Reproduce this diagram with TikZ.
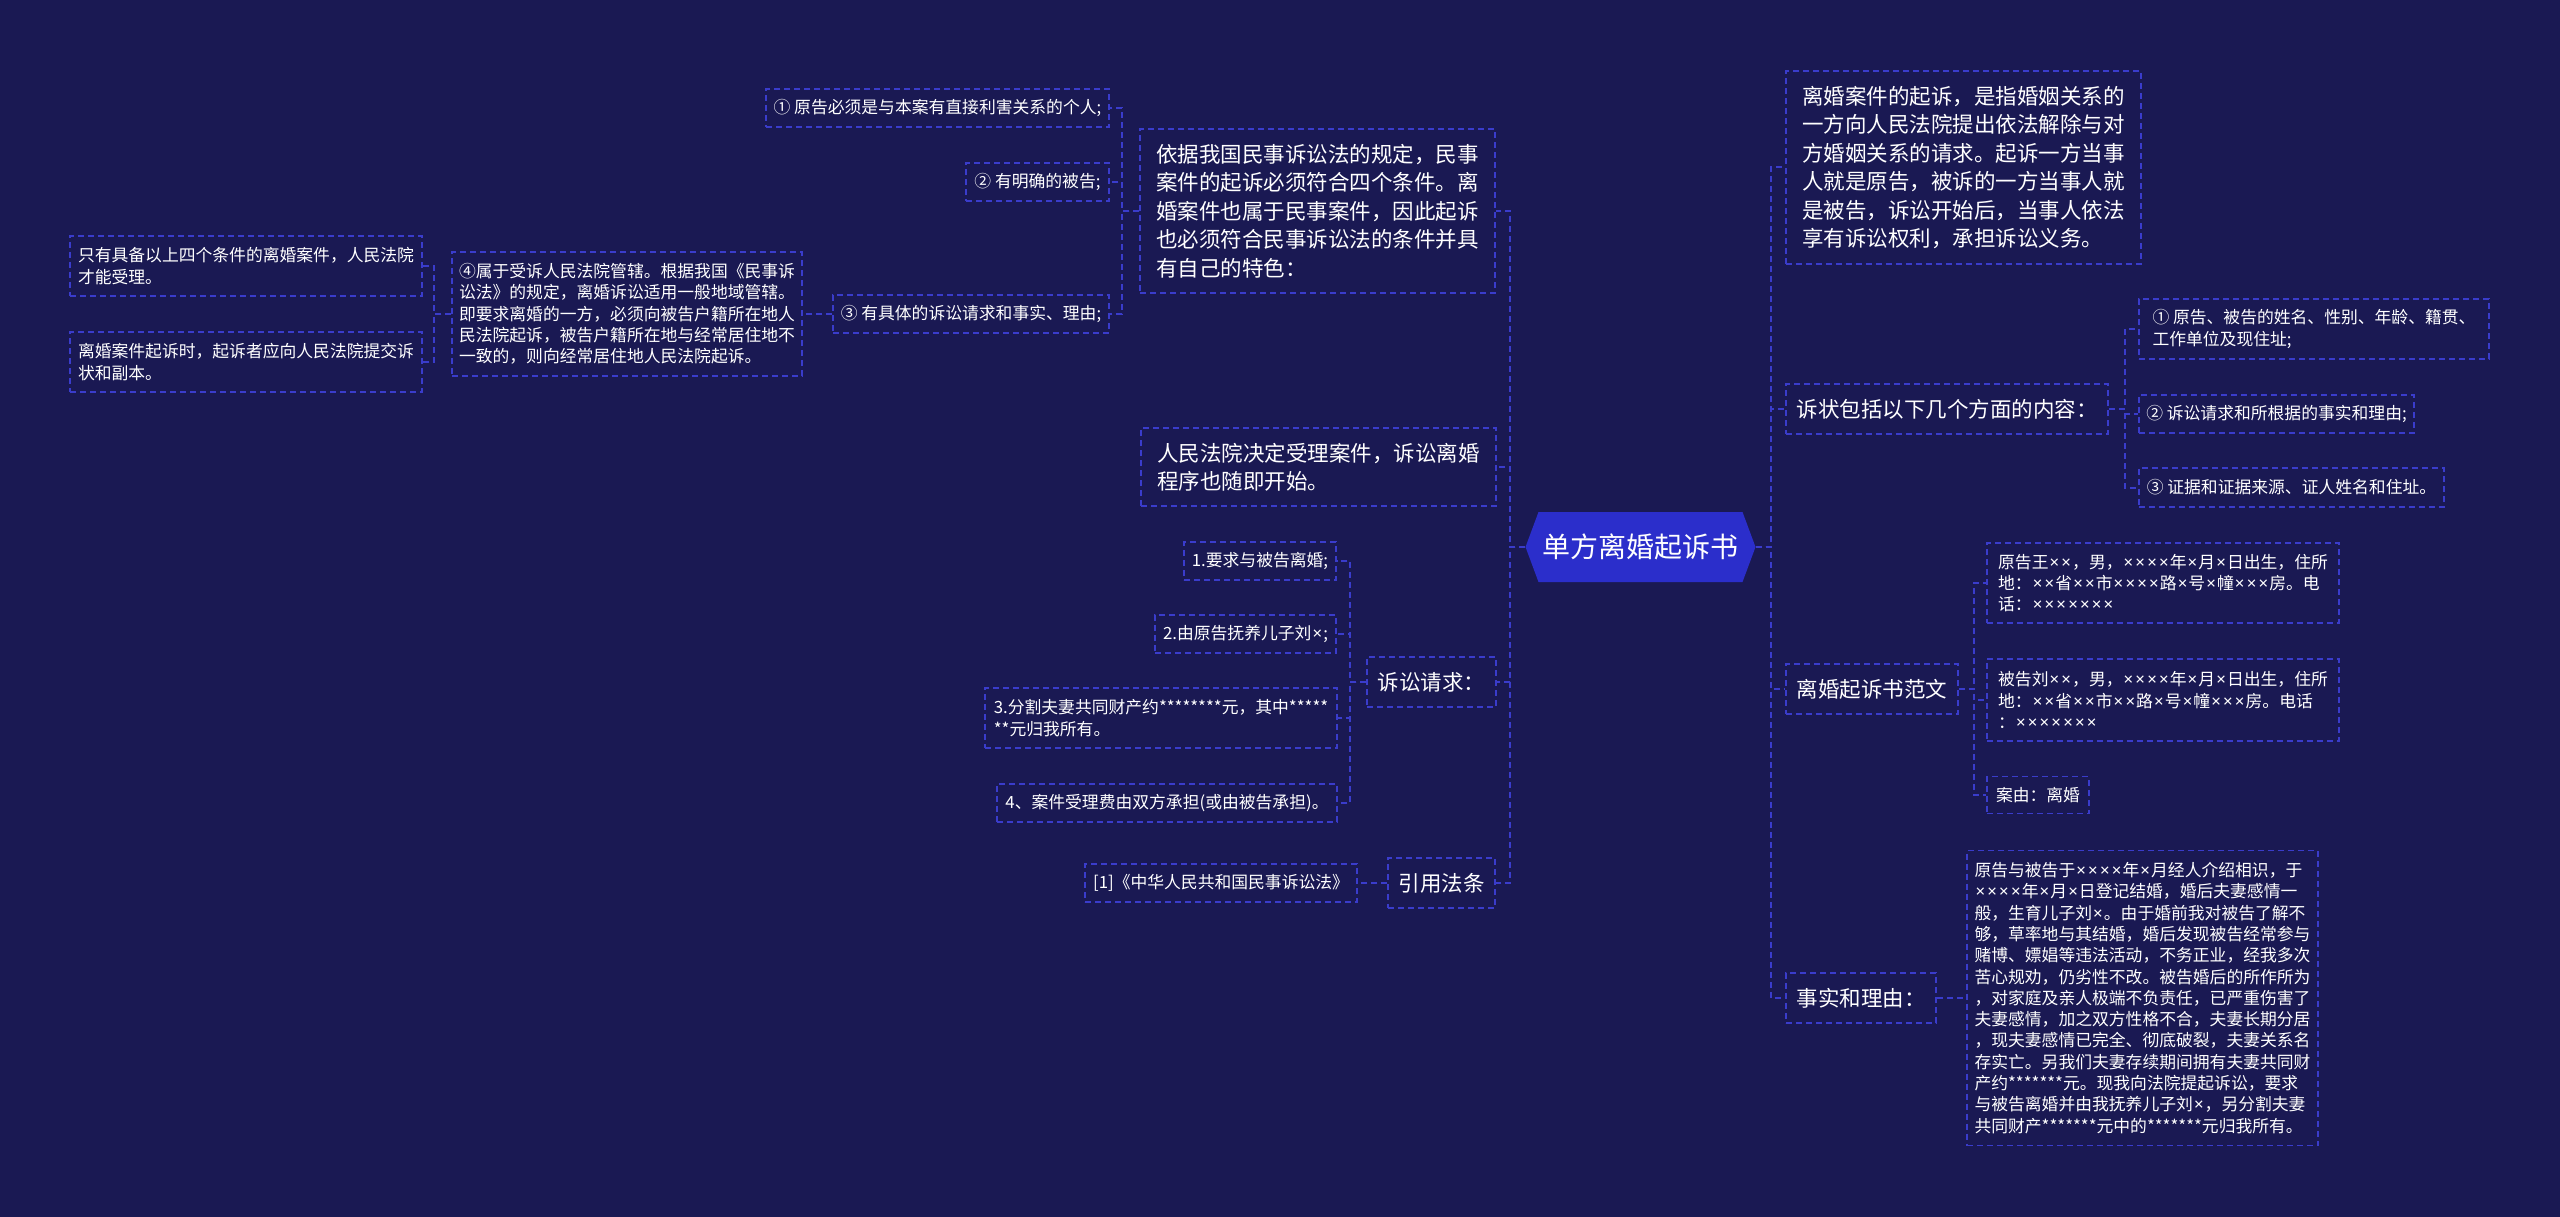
\documentclass[tikz,border=0pt]{standalone}
\usepackage{fontspec}
\setmainfont{Noto Sans CJK SC}
\newfontfamily\latfont{Noto Sans}
\newcommand\X{{\latfont\kern1.1pt×\kern1.1pt}}
\definecolor{bgcol}{HTML}{1A1953}
\definecolor{boxcol}{HTML}{3A3CCB}
\definecolor{rootcol}{HTML}{2B2ECB}
\newcommand\fsmall{\fontsize{16.8pt}{21.3pt}\selectfont}
\newcommand\fbig{\fontsize{21.5pt}{28.4pt}\selectfont}
\newcommand\froot{\fontsize{28pt}{34pt}\selectfont}
\begin{document}
\begin{tikzpicture}[x=1pt,y=-1pt,
  basebox/.style={draw=boxcol, dash pattern=on 6pt off 4pt, line width=1.5pt, text=white, align=left, inner sep=0pt},
  sbox/.style={basebox, font=\fsmall},
  bbox/.style={basebox, font=\fbig},
  rootnode/.style={text=white, font=\froot, inner sep=0pt, minimum width=230pt, minimum height=70pt},
  conn/.style={draw=boxcol, dash pattern=on 6pt off 4pt, line width=2pt}]
\useasboundingbox (0,0) rectangle (2560,1217);
\fill[bgcol] (0,0) rectangle (2560,1217);
% root
\fill[rootcol] (1525.5,547) -- (1538.5,512) -- (1742.5,512) -- (1755.5,547) -- (1742.5,582) -- (1538.5,582) -- cycle;
\node[rootnode] (root) at (1640.5,547) {单方离婚起诉书};
% left level 1
\node[bbox, minimum width=355pt, minimum height=164pt] (L1) at (1317.5,211) {依据我国民事诉讼法的规定，民事\\案件的起诉必须符合四个条件。离\\婚案件也属于民事案件，因此起诉\\也必须符合民事诉讼法的条件并具\\有自己的特色：};
\node[bbox, minimum width=355pt, minimum height=78pt] (L2) at (1318.5,467) {人民法院决定受理案件，诉讼离婚\\程序也随即开始。};
\node[bbox, minimum width=129pt, minimum height=50pt] (L3) at (1431.5,682) {诉讼请求：};
\node[bbox, minimum width=107pt, minimum height=50pt] (L4) at (1441.5,883) {引用法条};
% left level 2
\node[sbox, minimum width=343pt, minimum height=38pt] (l1) at (937.5,108) {①~原告必须是与本案有直接利害关系的个人;};
\node[sbox, minimum width=143pt, minimum height=38pt] (l2) at (1037.5,182) {②~有明确的被告;};
\node[sbox, minimum width=276pt, minimum height=38pt] (l3) at (971,314) {③~有具体的诉讼请求和事实、理由;};
\node[sbox, minimum width=350pt, minimum height=124pt] (l4) at (627,314) {④属于受诉人民法院管辖。根据我国《民事诉\\讼法》的规定，离婚诉讼适用一般地域管辖。\\即要求离婚的一方，必须向被告户籍所在地人\\民法院起诉，被告户籍所在地与经常居住地不\\一致的，则向经常居住地人民法院起诉。};
\node[sbox, minimum width=352pt, minimum height=60pt] (l5) at (246,266) {只有具备以上四个条件的离婚案件，人民法院\\才能受理。};
\node[sbox, minimum width=352pt, minimum height=60pt] (l6) at (246,362) {离婚案件起诉时，起诉者应向人民法院提交诉\\状和副本。};
\node[sbox, minimum width=152pt, minimum height=38pt] (s1) at (1260,561) {1.要求与被告离婚;};
\node[sbox, minimum width=181pt, minimum height=38pt] (s2) at (1245.5,634) {2.由原告抚养儿子刘\X{};};
\node[sbox, minimum width=352pt, minimum height=60pt] (s3) at (1161,718) {3.分割夫妻共同财产约********元，其中*****\\**元归我所有。};
\node[sbox, minimum width=340pt, minimum height=38pt] (s4) at (1167,803) {4、案件受理费由双方承担(或由被告承担)。};
\node[sbox, minimum width=272pt, minimum height=38pt] (r1) at (1221,883) {[1]《中华人民共和国民事诉讼法》};
% right level 1
\node[bbox, minimum width=355pt, minimum height=193pt] (R1) at (1963.5,167.5) {离婚案件的起诉，是指婚姻关系的\\一方向人民法院提出依法解除与对\\方婚姻关系的请求。起诉一方当事\\人就是原告，被诉的一方当事人就\\是被告，诉讼开始后，当事人依法\\享有诉讼权利，承担诉讼义务。};
\node[bbox, minimum width=322pt, minimum height=50pt] (R2) at (1947,409) {诉状包括以下几个方面的内容：};
\node[bbox, minimum width=172pt, minimum height=50pt] (R3) at (1872,689) {离婚起诉书范文};
\node[bbox, minimum width=150pt, minimum height=50pt] (R4) at (1861,998) {事实和理由：};
% right level 2
\node[sbox, minimum width=350pt, minimum height=60pt] (a1) at (2314,329) {①~原告、被告的姓名、性别、年龄、籍贯、\\工作单位及现住址;};
\node[sbox, minimum width=275pt, minimum height=38pt] (a2) at (2276.5,414) {②~诉讼请求和所根据的事实和理由;};
\node[sbox, minimum width=305pt, minimum height=39pt] (a3) at (2291.5,487.5) {③~证据和证据来源、证人姓名和住址。};
\node[sbox, minimum width=352pt, minimum height=80pt] (b1) at (2163,583) {原告王\X\X{}，男，\X\X\X\X{}年\X{}月\X{}日出生，住所\\地：\X\X{}省\X\X{}市\X\X\X\X{}路\X{}号\X{}幢\X\X\X{}房。电\\话：\X\X\X\X\X\X\X{}};
\node[sbox, minimum width=352pt, minimum height=82pt] (b2) at (2163,700) {被告刘\X\X{}，男，\X\X\X\X{}年\X{}月\X{}日出生，住所\\地：\X\X{}省\X\X{}市\X\X{}路\X{}号\X{}幢\X\X\X{}房。电话\\：\X\X\X\X\X\X\X{}};
\node[sbox, minimum width=102pt, minimum height=37pt] (b3) at (2038,795) {案由：离婚};
\node[sbox, minimum width=351pt, minimum height=295pt] (c1) at (2142.5,998) {原告与被告于\X\X\X\X{}年\X{}月经人介绍相识，于\\\X\X\X\X{}年\X{}月\X{}日登记结婚，婚后夫妻感情一\\般，生育儿子刘\X{}。由于婚前我对被告了解不\\够，草率地与其结婚，婚后发现被告经常参与\\赌博、嫖娼等违法活动，不务正业，经我多次\\苦心规劝，仍劣性不改。被告婚后的所作所为\\，对家庭及亲人极端不负责任，已严重伤害了\\夫妻感情，加之双方性格不合，夫妻长期分居\\，现夫妻感情已完全、彻底破裂，夫妻关系名\\存实亡。另我们夫妻存续期间拥有夫妻共同财\\产约*******元。现我向法院提起诉讼，要求\\与被告离婚并由我抚养儿子刘\X{}，另分割夫妻\\共同财产*******元中的*******元归我所有。};
% connectors left
\foreach \c in {L1,L2,L3,L4} \draw[conn] (root.west) -- ++(-15,0) |- (\c.east);
\foreach \c in {l1,l2,l3} \draw[conn] (L1.west) -- ++(-17,0) |- (\c.east);
\draw[conn] (l3.west) -- (l4.east);
\foreach \c in {l5,l6} \draw[conn] (l4.west) -- ++(-17,0) |- (\c.east);
\foreach \c in {s1,s2,s3,s4} \draw[conn] (L3.west) -- ++(-16,0) |- (\c.east);
\draw[conn] (L4.west) -- (r1.east);
% connectors right
\foreach \c in {R1,R2,R3,R4} \draw[conn] (root.east) -- ++(15,0) |- (\c.west);
\foreach \c in {a1,a2,a3} \draw[conn] (R2.east) -- ++(16,0) |- (\c.west);
\foreach \c in {b1,b2,b3} \draw[conn] (R3.east) -- ++(15,0) |- (\c.west);
\draw[conn] (R4.east) -- (c1.west |- R4.east);
\end{tikzpicture}
\end{document}
